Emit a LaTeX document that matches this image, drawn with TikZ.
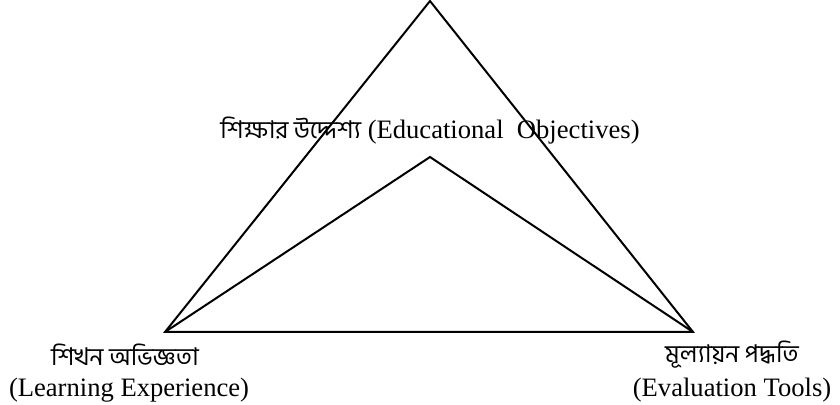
\documentclass[tikz,border=0pt]{standalone}
\usepackage{fontspec}
\setmainfont{Liberation Serif}
\newfontfamily\bnfont[Script=Bengali,Scale=0.92]{Hind Siliguri}
\begin{document}
\begin{tikzpicture}[x=0.5pt,y=-0.5pt,line width=1pt,
    every node/.style={font=\fontsize{13.3}{16}\selectfont,inner sep=0pt}]
    \useasboundingbox (0,0) rectangle (840,405);
    \coordinate (top) at (430,1);
    \coordinate (mid) at (430,157);
    \coordinate (lft) at (165,332);
    \coordinate (rgt) at (693,332);
    \draw (top)--(lft)--(rgt)--cycle;
    \draw (lft)--(mid)--(rgt);
    \node (aim) at (430,131) {{\bnfont শিক্ষার উদ্দেশ্য} (Educational\ \ Objectives)};
    \node (learnbn) at (125,355) {\bnfont শিখন অভিজ্ঞতা};
    \node (learnen) at (129,390) {(Learning Experience)};
    \node (evalbn) at (732,355) {\bnfont মূল্যায়ন পদ্ধতি};
    \node (evalen) at (732,390) {(Evaluation Tools)};
\end{tikzpicture}
\end{document}
